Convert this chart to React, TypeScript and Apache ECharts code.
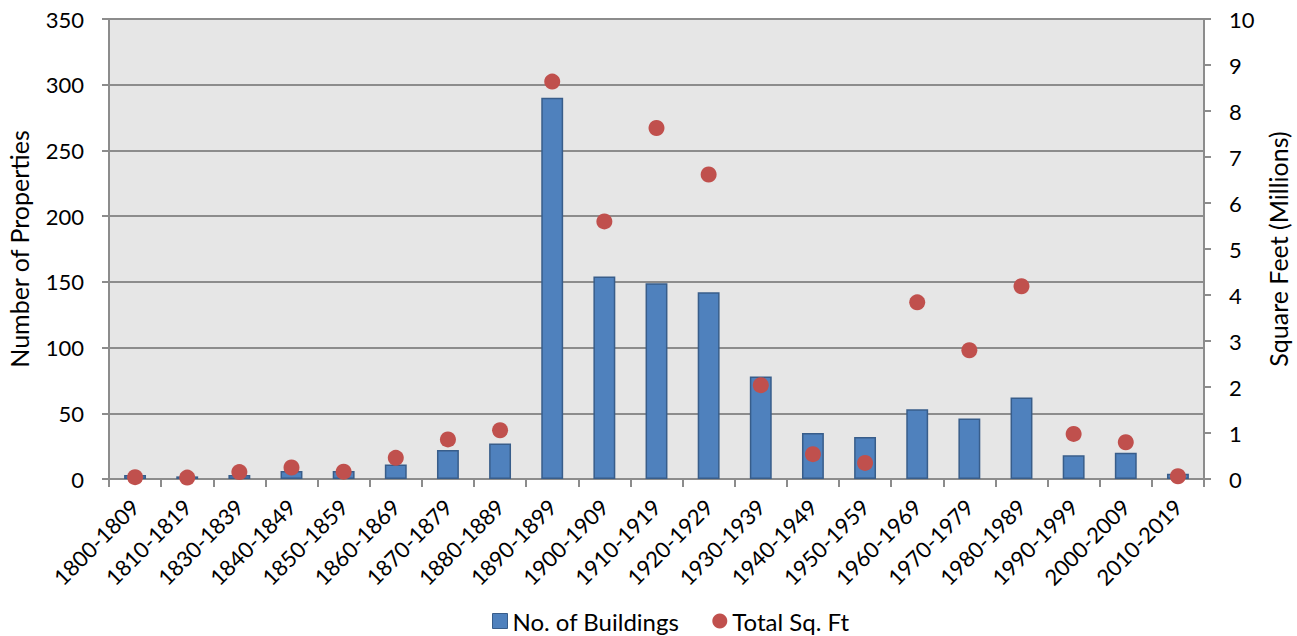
import React, { useEffect, useRef } from "react";
import * as echarts from "echarts";

const categories = [
  "1800-1809", "1810-1819", "1830-1839", "1840-1849", "1850-1859", "1860-1869",
  "1870-1879", "1880-1889", "1890-1899", "1900-1909", "1910-1919", "1920-1929",
  "1930-1939", "1940-1949", "1950-1959", "1960-1969", "1970-1979", "1980-1989",
  "1990-1999", "2000-2009", "2010-2019",
];
const buildings = [3, 2, 3, 6, 6, 11, 22, 27, 290, 154, 149, 142, 78, 35, 32, 53, 46, 62, 18, 20, 4];
const sqft = [0.04, 0.03, 0.15, 0.25, 0.16, 0.46, 0.86, 1.06, 8.64, 5.6, 7.63, 6.62, 2.04, 0.54, 0.35, 3.84, 2.8, 4.19, 0.98, 0.8, 0.06];

const FONT = "Lato, 'Noto Sans', sans-serif";

export default function App() {
  const ref = useRef<HTMLDivElement>(null);
  useEffect(() => {
    const chart = echarts.init(ref.current!, undefined, { renderer: "svg" });
    chart.setOption({
      animation: false,
      textStyle: { fontFamily: FONT, color: "#000" },
      grid: {
        left: 109, right: 93, top: 19, bottom: 157,
        containLabel: false, outerBoundsMode: "none",
        show: true, backgroundColor: "#e6e6e6", borderWidth: 0,
      },
      legend: {
        top: 604, left: 487, itemGap: 33, itemWidth: 15, itemHeight: 15,
        textStyle: { fontSize: 24, fontFamily: FONT, color: "#000" },
        data: [
          { name: "No. of Buildings", icon: "rect", itemStyle: { color: "#4f81bd", borderColor: "#385d8a", borderWidth: 1 } },
          { name: "Total Sq. Ft", icon: "circle" },
        ],
      },
      xAxis: {
        type: "category",
        data: categories,
        axisLine: { lineStyle: { color: "#8c8c8c", width: 2 } },
        axisTick: { show: true, alignWithLabel: false, length: 8, lineStyle: { color: "#8c8c8c", width: 2 } },
        axisLabel: { rotate: 45, fontSize: 22, color: "#000", fontFamily: FONT, margin: 24, interval: 0 },
      },
      yAxis: [
        {
          type: "value", min: 0, max: 350, interval: 50,
          name: "Number of Properties", nameLocation: "middle", nameGap: 78,
          nameTextStyle: { fontSize: 25, color: "#000", fontFamily: FONT },
          axisLine: { show: true, lineStyle: { color: "#8c8c8c", width: 2 } },
          axisTick: { show: true, length: 7, lineStyle: { color: "#8c8c8c", width: 2 } },
          axisLabel: { fontSize: 22, color: "#000", fontFamily: FONT, margin: 25 },
          splitLine: { show: true, lineStyle: { color: "#8c8c8c", width: 2 } },
        },
        {
          type: "value", min: 0, max: 10, interval: 1, position: "right",
          name: "Square Feet (Millions)", nameLocation: "middle", nameGap: 59,
          nameRotate: 90,
          nameTextStyle: { fontSize: 25, color: "#000", fontFamily: FONT },
          axisLine: { show: true, lineStyle: { color: "#8c8c8c", width: 2 } },
          axisTick: { show: true, length: 7, lineStyle: { color: "#8c8c8c", width: 2 } },
          axisLabel: { fontSize: 22, color: "#000", fontFamily: FONT, margin: 25 },
          splitLine: { show: false },
        },
      ],
      series: [
        {
          name: "No. of Buildings", type: "bar", data: buildings, yAxisIndex: 0,
          barWidth: "42%",
          itemStyle: { color: "#4f81bd", borderColor: "#385d8a", borderWidth: 1.5 },
        },
        {
          name: "Total Sq. Ft", type: "scatter", data: sqft, yAxisIndex: 1,
          symbol: "circle", symbolSize: 16,
          itemStyle: { color: "#c0504d", opacity: 1 },
        },
      ],
    });
    return () => chart.dispose();
  }, []);
  return (
    <div
      ref={ref}
      style={{ position: "absolute", left: 0, top: 0, width: 1297, height: 636 }}
    />
  );
}
